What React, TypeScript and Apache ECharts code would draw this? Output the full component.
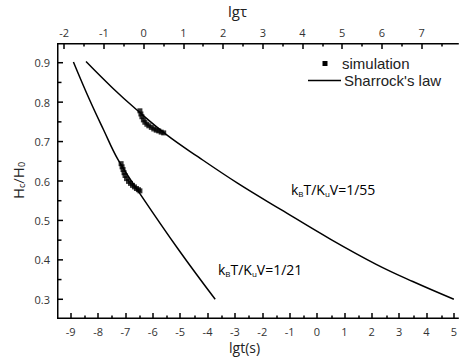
import React, { useEffect, useRef } from "react";
import * as echarts from "echarts";

// Sharrock's law curves
const lgtA = [-8.9, -8.31, -7.8, -7.27, -6.49, -5.05, -3.72];
const hA = [0.902, 0.806, 0.73, 0.654, 0.57, 0.425, 0.3];
const lgtB = [-8.44, -7.47, -6.58, -5.49, -4.34, -2.89, -1.33, 0.5, 2.18, 3.5, 5.0];
const hB = [0.903, 0.836, 0.78, 0.717, 0.661, 0.594, 0.528, 0.452, 0.388, 0.345, 0.3];

// simulation points
const simLgtA = [-7.158, -7.122, -7.086, -7.05, -7.014, -6.959, -6.887, -6.815, -6.742, -6.67, -6.597, -6.525, -6.471];
const simHA = [0.644, 0.636, 0.629, 0.621, 0.614, 0.606, 0.599, 0.594, 0.589, 0.585, 0.581, 0.578, 0.575];
const simLgtB = [-6.471, -6.435, -6.398, -6.344, -6.29, -6.217, -6.145, -6.054, -5.964, -5.874, -5.783, -5.693, -5.602];
const simHB = [0.778, 0.77, 0.763, 0.755, 0.749, 0.744, 0.74, 0.736, 0.732, 0.729, 0.727, 0.724, 0.722];

// axes
const bottomTicks = [-9, -8, -7, -6, -5, -4, -3, -2, -1, 0, 1, 2, 3, 4, 5];
const bottomMinor = [-8.5, -7.5, -6.5, -5.5, -4.5, -3.5, -2.5, -1.5, -0.5, 0.5, 1.5, 2.5, 3.5, 4.5];
const topTicks = [-2, -1, 0, 1, 2, 3, 4, 5, 6, 7];
const topMinor = [-1.5, -0.5, 0.5, 1.5, 2.5, 3.5, 4.5, 5.5, 6.5, 7.5];
const yTicks = [0.3, 0.4, 0.5, 0.6, 0.7, 0.8, 0.9];
const yMinor = [0.35, 0.45, 0.55, 0.65, 0.75, 0.85];

const X_MIN = -9.5, X_MAX = 5.181; // right grid edge is just beyond the picture
const T_MIN = -2.18, T_MAX = 7.965;
const Y_MIN = 0.25, Y_MAX = 0.95;

const FONT = "'Open Sans', sans-serif";
const G = { left: 57, right: -3, top: 43, bottom: 38, containLabel: false };

function lineStyle() {
  return { color: "#000", width: 1.5 };
}

function xMajor(grid: number, pos: string, min: number, max: number, ticks: number[], margin: number) {
  return {
    type: "value", gridIndex: grid, position: pos, min, max,
    splitLine: { show: false },
    axisLine: { show: false, onZero: false },
    axisTick: { show: true, inside: true, length: 6, lineStyle: lineStyle(), customValues: ticks },
    axisLabel: { show: true, color: "#333", fontSize: 11, fontFamily: FONT, margin, customValues: ticks },
  };
}
function xMinor(grid: number, pos: string, min: number, max: number, ticks: number[]) {
  return {
    type: "value", gridIndex: grid, position: pos, min, max,
    splitLine: { show: false },
    axisLine: { show: false, onZero: false },
    axisLabel: { show: false },
    axisTick: { show: true, inside: true, length: 3.5, lineStyle: lineStyle(), customValues: ticks },
  };
}
function hidden(grid: number, pos: string) {
  return {
    type: "value", gridIndex: grid, position: pos, min: 1, max: 2, show: false,
    splitLine: { show: false }, axisLine: { show: false, onZero: false },
  };
}

export default function App() {
  const ref = useRef<HTMLDivElement>(null);
  useEffect(() => {
    const chart = echarts.init(ref.current!, null, { renderer: "svg" });
    const sub = { fontSize: 8, fontFamily: FONT, color: "#222", padding: [8, 0, 0, 0] };
    const nrm = { fontSize: 14, fontFamily: FONT, color: "#222" };
    const nrmY = { fontSize: 15, fontFamily: FONT, color: "#222" };
    const subY = { fontSize: 9, fontFamily: FONT, color: "#222", padding: [8, 0, 0, 0] };
    const base: any[] = [
      { type: "text", left: 228, top: 3, style: { text: "lgτ", fontSize: 15, fontFamily: FONT, fill: "#222" } },
      { type: "text", left: 229, top: 340, style: { text: "lgt(s)", fontSize: 14, fontFamily: FONT, fill: "#222" } },
      {
        type: "text", x: 9, y: 199, rotation: Math.PI / 2,
        style: { text: "{n|H}{s|c}{n|/H}{s|0}", fill: "#222", rich: { n: nrmY, s: subY } },
      },
      { type: "rect", shape: { x: 322.5, y: 61, width: 5, height: 5 }, style: { fill: "#000" } },
      { type: "line", shape: { x1: 308, y1: 80.5, x2: 341, y2: 80.5 }, style: { stroke: "#000", lineWidth: 1.5 } },
      {
        type: "text", x: 342, y: 63.5,
        style: { text: "simulation", fontSize: 15, fontFamily: "'Liberation Sans', Arial, sans-serif", fill: "#222", verticalAlign: "middle" },
      },
      {
        type: "text", x: 344, y: 80.5,
        style: { text: "Sharrock's law", fontSize: 15, fontFamily: "'Liberation Sans', Arial, sans-serif", fill: "#222", verticalAlign: "middle" },
      },
      {
        type: "text", x: 291, y: 181,
        style: { text: "{n|k}{s|B}{n|T/K}{s|u}{n|V=1/55}", rich: { n: nrm, s: sub } },
      },
      {
        type: "text", x: 218, y: 261,
        style: { text: "{n|k}{s|B}{n|T/K}{s|u}{n|V=1/21}", rich: { n: nrm, s: sub } },
      },
    ];
    chart.setOption({
      animation: false,
      backgroundColor: "#fff",
      grid: [{ ...G }, { ...G }, { ...G }, { ...G }],
      xAxis: [
        xMajor(0, "bottom", X_MIN, X_MAX, bottomTicks, 7),
        xMajor(1, "top", T_MIN, T_MAX, topTicks, 5),
        xMinor(2, "bottom", X_MIN, X_MAX, bottomMinor),
        xMinor(3, "top", T_MIN, T_MAX, topMinor),
      ],
      yAxis: [
        {
          type: "value", gridIndex: 0, position: "left", min: Y_MIN, max: Y_MAX,
          splitLine: { show: false },
          axisLine: { show: false, onZero: false },
          axisTick: { show: false },
          axisLabel: {
            show: true, color: "#333", fontSize: 11, fontFamily: FONT, margin: 7,
            customValues: yTicks, formatter: (v: number) => v.toFixed(1),
          },
        },
        hidden(1, "right"),
        hidden(2, "right"),
        hidden(3, "right"),
      ],
      series: [
        {
          type: "line", name: "Sharrock's law", xAxisIndex: 0, yAxisIndex: 0, clip: false,
          data: lgtA.map((x, i) => [x, hA[i]]), smooth: 0.4, showSymbol: false, symbol: "none",
          lineStyle: { color: "#000", width: 1.5 }, z: 3,
        },
        {
          type: "line", name: "Sharrock's law B", xAxisIndex: 0, yAxisIndex: 0, clip: false,
          data: lgtB.map((x, i) => [x, hB[i]]), smooth: 0.4, showSymbol: false, symbol: "none",
          lineStyle: { color: "#000", width: 1.5 }, z: 3,
        },
        {
          type: "scatter", name: "simulation", xAxisIndex: 0, yAxisIndex: 0, clip: false,
          data: simLgtA.map((x, i) => [x, simHA[i]]), symbol: "rect", symbolSize: 5,
          itemStyle: { color: "#000" }, z: 4,
        },
        {
          type: "scatter", name: "simulation B", xAxisIndex: 0, yAxisIndex: 0, clip: false,
          data: simLgtB.map((x, i) => [x, simHB[i]]), symbol: "rect", symbolSize: 5,
          itemStyle: { color: "#000" }, z: 4,
        },
      ],
      graphic: { elements: base },
    });

    // frame and y ticks, positioned through the chart's own scales
    const P = (x: number, y: number) => chart.convertToPixel({ xAxisIndex: 0, yAxisIndex: 0 }, [x, y]) as number[];
    const bl = P(X_MIN, Y_MIN);
    const tl = P(X_MIN, Y_MAX);
    const br = P(X_MAX, Y_MIN);
    const tr = P(X_MAX, Y_MAX);
    const stroke = { stroke: "#000", lineWidth: 1.5 };
    const extra: any[] = [];
    if (bl && tl && br && tr) {
      const h = 0.75;
      extra.push({ type: "line", z: 100, shape: { x1: tl[0] + h, y1: tl[1], x2: bl[0] + h, y2: bl[1] }, style: stroke });
      extra.push({ type: "line", z: 100, shape: { x1: tl[0], y1: tl[1] + h, x2: tr[0], y2: tr[1] + h }, style: stroke });
      extra.push({ type: "line", z: 100, shape: { x1: bl[0], y1: bl[1] - h, x2: br[0], y2: br[1] - h }, style: stroke });
      yTicks.forEach((v) => {
        const p = P(X_MIN, v);
        extra.push({ type: "line", z: 100, shape: { x1: p[0], y1: p[1], x2: p[0] + 6, y2: p[1] }, style: stroke });
      });
      yMinor.forEach((v) => {
        const p = P(X_MIN, v);
        extra.push({ type: "line", z: 100, shape: { x1: p[0], y1: p[1], x2: p[0] + 4.5, y2: p[1] }, style: stroke });
      });
    }
    chart.setOption({ graphic: { elements: [...base, ...extra] } });
    return () => chart.dispose();
  }, []);
  return (
    <div
      ref={ref}
      style={{ position: "absolute", left: 0, top: 0, width: 460, height: 357 }}
    />
  );
}
